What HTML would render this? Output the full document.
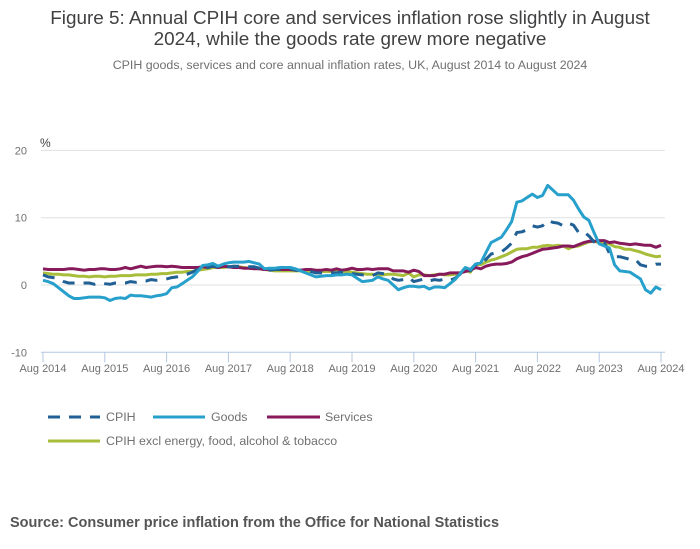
<!DOCTYPE html>
<html><head><meta charset="utf-8"><style>
body{margin:0;background:#fff;font-family:"Liberation Sans",sans-serif;}
svg{display:block}
</style></head><body>
<svg width="700" height="549" xmlns="http://www.w3.org/2000/svg">
<text x="350" y="24" text-anchor="middle" font-size="18.9" fill="#414042">Figure 5: Annual CPIH core and services inflation rose slightly in August</text>
<text x="350" y="45" text-anchor="middle" font-size="18.9" fill="#414042">2024, while the goods rate grew more negative</text>
<text x="350" y="69" text-anchor="middle" font-size="12.4" fill="#707071">CPIH goods, services and core annual inflation rates, UK, August 2014 to August 2024</text>
<text x="40" y="147" font-size="12" fill="#414042">%</text>
<g id="grid"></g>
<g id="xaxis"></g>
<g id="series"></g>
<g>
<line x1="48" y1="417" x2="100" y2="417" stroke="#206095" stroke-width="3" stroke-dasharray="12,9"/>
<text x="106" y="421" font-size="12.4" fill="#707071">CPIH</text>
<line x1="153" y1="417" x2="205" y2="417" stroke="#27a0cc" stroke-width="3"/>
<text x="211" y="421" font-size="12.4" fill="#707071">Goods</text>
<line x1="267" y1="417" x2="320" y2="417" stroke="#871a5b" stroke-width="3"/>
<text x="325" y="421" font-size="12.4" fill="#707071">Services</text>
<line x1="48" y1="441" x2="100" y2="441" stroke="#a8bd3a" stroke-width="3"/>
<text x="106" y="445" font-size="12.4" fill="#707071">CPIH excl energy, food, alcohol &amp; tobacco</text>
</g>
<text x="10" y="527" font-size="14.5" font-weight="bold" fill="#555">Source: Consumer price inflation from the Office for National Statistics</text>
</svg>
<script>
const yTicks=[20,10,0,-10];
const xTickLabels=["Aug 2014","Aug 2015","Aug 2016","Aug 2017","Aug 2018","Aug 2019","Aug 2020","Aug 2021","Aug 2022","Aug 2023","Aug 2024"];
const goods=[0.7,0.5,0.2,-0.4,-1.0,-1.6,-2.0,-2.0,-1.9,-1.8,-1.8,-1.8,
-1.9,-2.3,-2.0,-1.9,-2.0,-1.5,-1.6,-1.6,-1.7,-1.8,-1.6,-1.5,
-1.3,-0.4,-0.3,0.2,0.7,1.2,2.0,2.9,3.0,3.2,2.8,3.1,
3.3,3.4,3.4,3.4,3.5,3.3,3.1,2.4,2.5,2.5,2.6,2.6,
2.6,2.4,2.1,1.8,1.5,1.2,1.3,1.4,1.4,1.5,1.5,1.6,
1.5,1.0,0.5,0.6,0.7,1.2,0.9,0.7,0.0,-0.7,-0.4,-0.2,
-0.2,-0.3,-0.2,-0.6,-0.3,-0.3,-0.4,0.2,0.8,1.7,2.6,2.3,
3.1,3.3,4.8,6.3,6.7,7.1,8.2,9.4,12.3,12.5,13.0,13.5,
13.0,13.3,14.8,14.1,13.4,13.4,13.4,12.6,11.3,10.1,9.6,7.8,
6.1,5.8,5.5,3.0,2.1,2.0,1.9,1.4,0.9,-0.7,-1.2,-0.3,-0.7];
const services=[2.4,2.3,2.3,2.3,2.3,2.4,2.4,2.3,2.2,2.3,2.3,2.4,
2.4,2.3,2.3,2.4,2.6,2.4,2.6,2.8,2.6,2.7,2.8,2.8,
2.7,2.8,2.7,2.6,2.6,2.6,2.6,2.7,2.6,2.8,2.6,2.8,
2.7,2.6,2.6,2.5,2.5,2.4,2.4,2.3,2.3,2.3,2.3,2.3,
2.3,2.2,2.2,2.3,2.3,2.2,2.2,2.3,2.2,2.4,2.2,2.3,
2.5,2.3,2.3,2.4,2.3,2.4,2.4,2.4,2.1,2.1,2.1,1.9,
2.2,2.0,1.4,1.4,1.4,1.6,1.6,1.8,1.8,1.8,2.0,2.2,
2.6,2.4,2.8,3.0,3.1,3.1,3.2,3.4,3.9,4.2,4.4,4.7,
5.0,5.3,5.4,5.5,5.6,5.8,5.8,5.7,6.0,6.3,6.5,6.5,
6.6,6.6,6.3,6.4,6.2,6.1,6.0,6.1,6.0,5.9,5.9,5.6,5.9];
const core=[1.8,1.7,1.6,1.6,1.5,1.5,1.4,1.3,1.3,1.2,1.3,1.3,
1.2,1.3,1.3,1.4,1.4,1.4,1.5,1.5,1.5,1.6,1.6,1.7,
1.7,1.8,1.9,1.9,2.0,2.0,2.2,2.3,2.4,2.6,2.6,2.6,
2.7,2.8,2.7,2.6,2.5,2.5,2.4,2.3,2.2,2.1,2.1,2.1,
2.1,2.1,2.1,2.0,2.0,2.0,2.0,2.0,2.0,2.0,2.0,2.0,
1.9,1.8,1.7,1.6,1.6,1.5,1.5,1.6,1.6,1.5,1.4,1.8,
1.2,1.5,1.5,1.4,1.5,1.6,1.5,1.5,1.6,1.7,2.2,1.9,
3.1,3.0,3.4,3.7,3.9,4.2,4.5,4.9,5.3,5.4,5.4,5.6,
5.6,5.8,5.9,5.8,5.9,5.8,5.4,5.7,5.8,6.1,6.4,6.5,
6.3,6.1,6.1,5.7,5.6,5.3,5.3,5.1,4.9,4.6,4.4,4.2,4.3];
const cpih=[1.5,1.2,1.1,0.9,0.5,0.3,0.3,0.3,0.3,0.3,0.1,0.3,
0.2,0.1,0.3,0.3,0.3,0.5,0.4,0.6,0.6,0.8,0.7,0.8,
0.9,1.1,1.2,1.4,1.6,1.9,2.3,2.4,2.6,2.8,2.7,2.6,
2.7,2.8,2.8,2.8,2.7,2.7,2.5,2.3,2.2,2.3,2.3,2.3,
2.4,2.2,2.2,2.2,2.0,1.8,1.8,1.8,1.8,1.8,1.9,1.9,
1.7,1.6,1.5,1.5,1.4,1.8,1.7,1.5,0.9,0.7,0.8,1.1,
0.5,0.7,0.9,0.6,0.8,0.7,0.9,0.7,1.0,1.6,2.1,2.1,
3.1,2.9,3.8,4.6,4.8,4.9,5.5,6.2,7.8,7.9,8.2,8.8,
8.6,8.8,9.6,9.3,9.2,8.8,9.2,8.9,7.8,7.9,7.3,6.4,
6.3,6.3,4.7,4.2,4.2,4.0,3.8,3.8,3.0,2.8,2.8,3.1,3.1];

const NS="http://www.w3.org/2000/svg";
const X0=43,X1=661,Y0=285,PXU=6.73;
function xs(i){return X0+(X1-X0)*i/120;}
function ys(v){return Y0-v*PXU;}
function mk(tag,attrs,parent){const e=document.createElementNS(NS,tag);for(const k in attrs)e.setAttribute(k,attrs[k]);parent.appendChild(e);return e;}
const grid=document.getElementById('grid');
yTicks.forEach(v=>{
  if(v!==-10){
    const l=mk('line',{x1:41,x2:665,y1:ys(v),y2:ys(v),stroke:'#e0e0e0','stroke-width':1},grid);
    
    
  }
  const t=mk('text',{x:27,y:ys(v)+4,'text-anchor':'end','font-size':11,fill:'#707071'},grid);
  t.textContent=v;
  
  
});
const xa=document.getElementById('xaxis');
const ax=mk('line',{x1:41,x2:665,y1:ys(-10),y2:ys(-10),stroke:'#b3c7e0','stroke-width':1},xa);


xTickLabels.forEach((lab,k)=>{
  const x=xs(k*12);
  const tk=mk('line',{x1:x,x2:x,y1:ys(-10),y2:ys(-10)+10,stroke:'#b3c7e0','stroke-width':1},xa);
  
  
  const t=mk('text',{x:x,y:372,'text-anchor':'middle','font-size':11,fill:'#707071'},xa);
  t.textContent=lab;
  
  
});
const sg=document.getElementById('series');
function line(arr,color,dash,name){
  const d=arr.map((v,i)=>(i?'L':'M')+xs(i).toFixed(1)+','+ys(v).toFixed(1)).join('');
  const p=mk('path',{d:d,fill:'none',stroke:color,'stroke-width':3,'stroke-linejoin':'round'},sg);
  if(dash)p.setAttribute('stroke-dasharray',dash);
  
  
}
line(core,'#a8bd3a',null,'core-line');
line(services,'#871a5b',null,'services-line');
line(cpih,'#206095','12,9','cpih-line');
line(goods,'#27a0cc',null,'goods-line');
</script>
</body></html>
